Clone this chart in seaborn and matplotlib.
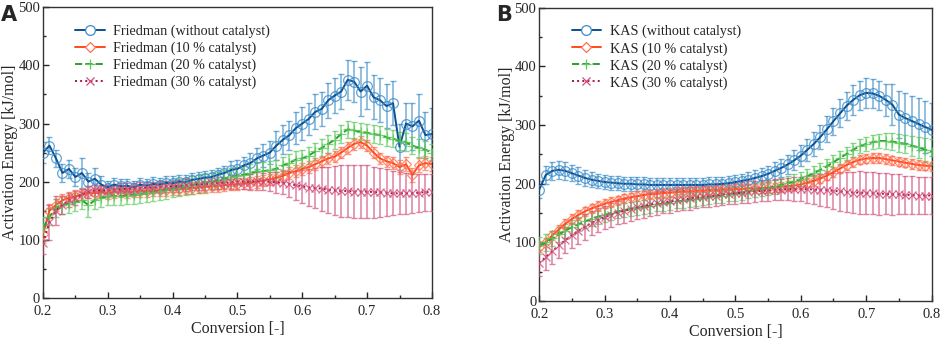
import numpy as np
import pandas as pd
import seaborn as sns
import matplotlib
matplotlib.use("Agg")
from matplotlib import pyplot as plt
from matplotlib.ticker import MultipleLocator

# conversion grid, 0.20 .. 0.80
conversion = [round(0.20 + 0.01 * i, 2) for i in range(61)]

# Friedman (panel A)
fr_0 = [250, 262, 240, 215, 222, 208, 215, 200, 205, 195, 190, 195, 192, 193, 190, 195, 193, 196, 195, 198,
        197, 200, 199, 203, 205, 207, 208, 212, 215, 220, 222, 228, 232, 240, 245, 250, 262, 272, 280, 292,
        300, 308, 320, 325, 340, 348, 355, 375, 372, 355, 365, 345, 340, 330, 335, 260, 300, 295, 305, 280, 282]
fr_0_err = [18, 15, 15, 15, 15, 15, 25, 15, 18, 15, 12, 12, 12, 12, 12, 12, 12, 12, 12, 12,
            12, 12, 12, 12, 12, 12, 12, 12, 12, 15, 15, 15, 18, 18, 20, 20, 25, 25, 25, 28,
            28, 28, 30, 30, 30, 30, 30, 35, 35, 42, 40, 38, 38, 38, 38, 40, 35, 40, 45, 40, 45]
fr_10 = [110, 150, 160, 168, 172, 175, 178, 182, 180, 183, 180, 182, 183, 182, 183, 184, 184, 185, 185, 186,
         187, 187, 188, 189, 190, 191, 192, 193, 194, 195, 196, 197, 198, 200, 202, 204, 207, 210, 215, 218,
         222, 225, 230, 235, 240, 243, 250, 258, 265, 268, 262, 250, 240, 235, 232, 225, 230, 212, 228, 232, 230]
fr_10_err = [15, 12, 10, 10, 10, 10, 10, 10, 10, 10, 10, 10, 10, 10, 10, 10, 10, 10, 10, 10,
             10, 10, 10, 10, 10, 10, 10, 10, 10, 10, 10, 10, 10, 10, 10, 10, 10, 10, 10, 10,
             10, 10, 10, 10, 10, 10, 10, 10, 10, 10, 10, 10, 10, 10, 10, 12, 12, 12, 12, 12, 12]
fr_20 = [120, 140, 155, 160, 162, 165, 168, 160, 168, 172, 175, 175, 175, 176, 177, 178, 180, 182, 184, 186,
         188, 190, 192, 194, 196, 198, 200, 202, 205, 208, 210, 212, 215, 218, 218, 220, 222, 228, 232, 238,
         240, 245, 252, 258, 265, 272, 282, 290, 288, 286, 284, 282, 280, 276, 274, 270, 268, 262, 258, 255, 250]
fr_20_err = [20, 15, 15, 15, 15, 15, 15, 20, 15, 15, 15, 15, 15, 15, 15, 15, 15, 15, 15, 15,
             15, 15, 15, 15, 15, 15, 15, 15, 15, 15, 15, 15, 15, 15, 15, 15, 15, 15, 15, 15,
             15, 15, 15, 15, 15, 15, 15, 15, 15, 15, 15, 15, 15, 15, 15, 15, 15, 15, 15, 15, 15]
fr_30 = [95, 130, 150, 160, 168, 172, 178, 182, 185, 185, 185, 186, 187, 188, 188, 189, 190, 190, 191, 192,
         192, 193, 194, 195, 195, 196, 197, 198, 198, 199, 200, 200, 200, 201, 200, 200, 199, 198, 196, 194,
         192, 190, 189, 188, 186, 185, 184, 184, 183, 183, 183, 182, 182, 181, 180, 180, 180, 180, 181, 182, 182]
fr_30_err = [20, 30, 25, 15, 12, 12, 10, 10, 10, 10, 10, 10, 10, 10, 10, 10, 10, 10, 10, 10,
             10, 10, 10, 10, 10, 10, 10, 10, 10, 12, 12, 13, 14, 15, 15, 16, 18, 20, 22, 25,
             28, 32, 35, 38, 40, 42, 44, 45, 46, 46, 45, 44, 42, 40, 38, 36, 35, 34, 33, 32, 32]

# KAS (panel B)
kas_0 = [190, 215, 222, 224, 222, 218, 214, 210, 207, 205, 203, 202, 201, 200, 200, 199, 199, 198, 198, 198,
         198, 198, 198, 198, 198, 198, 199, 199, 200, 201, 203, 205, 207, 210, 213, 217, 222, 227, 233, 240,
         248, 258, 268, 280, 293, 307, 320, 333, 343, 351, 355, 354, 350, 343, 335, 318, 312, 307, 302, 297, 292]
kas_0_err = [15, 16, 16, 15, 15, 14, 14, 13, 13, 12, 12, 12, 12, 12, 12, 12, 12, 12, 12, 12,
             12, 12, 12, 12, 12, 12, 12, 12, 12, 12, 12, 12, 13, 13, 14, 14, 15, 15, 16, 17,
             18, 19, 20, 21, 22, 23, 24, 24, 25, 25, 25, 25, 25, 28, 35, 40, 42, 43, 44, 45, 45]
kas_10 = [92, 100, 112, 122, 132, 140, 147, 153, 158, 162, 166, 169, 172, 175, 177, 179, 181, 182, 183, 184,
          185, 186, 187, 187, 188, 188, 189, 189, 190, 190, 191, 191, 192, 192, 193, 193, 194, 195, 196, 197,
          199, 202, 205, 209, 214, 220, 226, 232, 237, 241, 243, 244, 244, 242, 240, 238, 236, 234, 232, 231, 230]
kas_10_err = [8, 8, 8, 8, 8, 8, 8, 8, 8, 8, 8, 8, 8, 8, 8, 8, 8, 8, 8, 8,
              8, 8, 8, 8, 8, 8, 8, 8, 8, 8, 8, 8, 8, 8, 8, 8, 8, 8, 8, 8,
              8, 8, 8, 8, 8, 8, 8, 8, 8, 8, 8, 8, 8, 8, 8, 8, 8, 8, 8, 8, 8]
kas_20 = [95, 100, 107, 114, 120, 126, 131, 136, 140, 144, 147, 150, 153, 155, 157, 159, 161, 163, 165, 166,
          168, 170, 171, 173, 174, 176, 177, 179, 180, 182, 183, 185, 187, 189, 191, 193, 195, 198, 201, 204,
          208, 213, 218, 224, 230, 237, 244, 251, 258, 264, 268, 271, 273, 273, 272, 270, 268, 265, 262, 258, 255]
kas_20_err = [14, 14, 13, 13, 12, 12, 12, 12, 12, 12, 12, 12, 12, 12, 12, 12, 12, 12, 12, 12,
              12, 12, 12, 12, 12, 12, 12, 12, 12, 12, 12, 12, 12, 12, 12, 12, 12, 12, 12, 12,
              12, 12, 12, 12, 12, 12, 12, 12, 12, 12, 12, 12, 12, 13, 14, 15, 16, 17, 18, 20, 22]
kas_30 = [65, 75, 85, 95, 104, 112, 120, 127, 133, 138, 143, 147, 151, 154, 157, 160, 162, 165, 167, 169,
          170, 172, 174, 175, 177, 178, 179, 180, 182, 183, 184, 185, 186, 187, 188, 189, 190, 190, 191, 191,
          191, 191, 190, 190, 189, 188, 187, 186, 185, 185, 184, 184, 183, 183, 182, 182, 181, 181, 180, 180, 180]
kas_30_err = [22, 22, 22, 22, 22, 22, 22, 22, 21, 21, 20, 20, 20, 20, 20, 20, 20, 20, 20, 19,
              19, 19, 19, 19, 18, 18, 18, 18, 18, 18, 18, 18, 18, 18, 18, 18, 18, 18, 19, 20,
              21, 23, 25, 27, 29, 31, 33, 34, 35, 36, 36, 36, 36, 35, 35, 34, 33, 32, 32, 31, 31]

labels = ["without catalyst", "10 % catalyst", "20 % catalyst", "30 % catalyst"]
line_colors = ["#0d4f91", "#ff4a1c", "#2ca02c", "#a8163f"]
err_colors = ["#3a8cc8", "#ff7050", "#5cc85c", "#d04d7a"]
markers = ["o", "D", "+", "x"]
dashes = ["-", "-", "--", ":"]
marker_sizes = [7, 5, 7, 6]

sns.set_theme(style="ticks")
plt.rcParams["font.family"] = ["Liberation Serif", "DejaVu Serif"]
plt.rcParams["xtick.direction"] = "in"
plt.rcParams["ytick.direction"] = "in"

fig = plt.figure(figsize=(9.41, 3.41), dpi=100)
ax_a = fig.add_axes([0.0457, 0.126, 0.4133, 0.853])
ax_b = fig.add_axes([0.573, 0.117, 0.417, 0.860])


def draw_panel(ax, method, series, errors):
    for i, (vals, errs) in enumerate(zip(series, errors)):
        df = pd.DataFrame({"conversion": conversion, "energy": vals})
        ax.errorbar(conversion, vals, yerr=errs, fmt="none", ecolor=err_colors[i],
                    elinewidth=1.1, capsize=2.5, capthick=1.0, alpha=0.7, zorder=1 + i)
        sns.lineplot(data=df, x="conversion", y="energy", ax=ax, color=line_colors[i],
                     linestyle=dashes[i], linewidth=1.4, zorder=5 + i, legend=False)
        ax.plot(conversion, vals, linestyle="none", marker=markers[i], markersize=marker_sizes[i],
                markerfacecolor="none", markeredgecolor=err_colors[i], markeredgewidth=0.9,
                alpha=0.8, zorder=5 + i)
    ax.set_xlim(0.2, 0.8)
    ax.set_ylim(0, 500)
    ax.xaxis.set_major_locator(MultipleLocator(0.1))
    ax.xaxis.set_minor_locator(MultipleLocator(0.05))
    ax.yaxis.set_major_locator(MultipleLocator(100))
    ax.yaxis.set_minor_locator(MultipleLocator(50))
    ax.tick_params(which="major", length=4, width=1, labelsize=10.5, pad=2)
    ax.tick_params(axis="x", which="major", pad=5)
    ax.tick_params(which="minor", length=2.5, width=1)
    ax.set_xlabel("Conversion [-]", fontsize=11.5, labelpad=2)
    ax.set_ylabel("Activation Energy [kJ/mol]", fontsize=11.5, labelpad=0)
    for s in ax.spines.values():
        s.set_linewidth(1.0)
        s.set_color("#333333")
    # legend: line + marker
    handles = []
    for i in range(4):
        h, = ax.plot([], [], color=line_colors[i], linestyle=dashes[i], linewidth=1.4,
                     marker=markers[i], markersize=marker_sizes[i], markerfacecolor="white",
                     markeredgecolor=err_colors[i], markeredgewidth=0.9)
        handles.append(h)
    ax.legend(handles, ["{} ({})".format(method, l) for l in labels], loc="upper left",
              bbox_to_anchor=(0.05, 0.985), frameon=False, fontsize=10.2, handlelength=2.1,
              labelspacing=0.25, handletextpad=0.6)


draw_panel(ax_a, "Friedman", [fr_0, fr_10, fr_20, fr_30],
           [fr_0_err, fr_10_err, fr_20_err, fr_30_err])
draw_panel(ax_b, "KAS", [kas_0, kas_10, kas_20, kas_30],
           [kas_0_err, kas_10_err, kas_20_err, kas_30_err])

fig.text(0.001, 0.985, "A", fontsize=15, fontweight="bold", family="DejaVu Sans", va="top")
fig.text(0.527, 0.985, "B", fontsize=15, fontweight="bold", family="DejaVu Sans", va="top")

fig.savefig("out.png", dpi=100)
